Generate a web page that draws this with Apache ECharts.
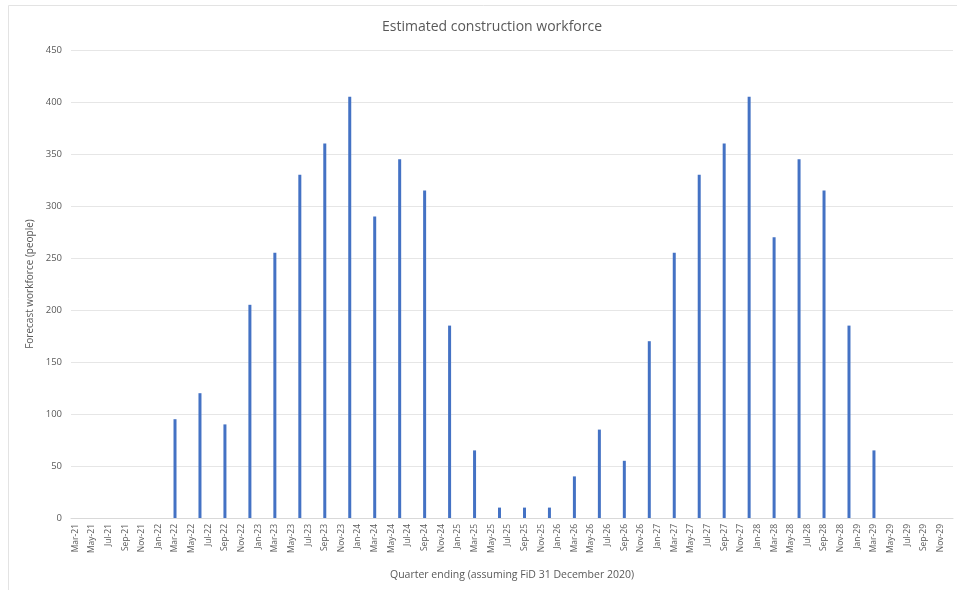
<!DOCTYPE html>
<html>
<head>
<meta charset="utf-8">
<script src="https://cdn.jsdelivr.net/npm/echarts@6/dist/echarts.min.js"></script>
<style>html,body{margin:0;padding:0;background:#fff;}#c{width:957px;height:590px;}</style>
</head>
<body>
<div id="c"></div>
<script>
// Quarter-end dates and forecast workforce values
const quarters = ['Mar-21','Jun-21','Sep-21','Dec-21',
  'Mar-22','Jun-22','Sep-22','Dec-22',
  'Mar-23','Jun-23','Sep-23','Dec-23',
  'Mar-24','Jun-24','Sep-24','Dec-24',
  'Mar-25','Jun-25','Sep-25','Dec-25',
  'Mar-26','Jun-26','Sep-26','Dec-26',
  'Mar-27','Jun-27','Sep-27','Dec-27',
  'Mar-28','Jun-28','Sep-28','Dec-28',
  'Mar-29','Jun-29','Sep-29','Dec-29'];
const workforce = [0,0,0,0,
  95,120,90,205,
  255,330,360,405,
  290,345,315,185,
  65,10,10,10,
  40,85,55,170,
  255,330,360,405,
  270,345,315,185,
  65,0,0,0];
const monthNames = ['Jan','Feb','Mar','Apr','May','Jun','Jul','Aug','Sep','Oct','Nov','Dec'];
const startMonth = 'Mar-21';
const endMonth = 'Dec-29';
const yTicks = {min:0, max:450, interval:50};

// Build monthly date axis categories (the chart uses a monthly date axis)
function parse(s){const [m,y]=s.split('-');return {m:monthNames.indexOf(m), y:2000+parseInt(y)};}
const s = parse(startMonth), e = parse(endMonth);
const months = [];
for (let y=s.y, m=s.m; y<e.y || (y===e.y && m<=e.m); ) {
  months.push(monthNames[m]+'-'+String(y%100).padStart(2,'0'));
  m++; if (m>11){m=0;y++;}
}
const series = months.map(mm => { const i = quarters.indexOf(mm); return i>=0 ? workforce[i] : '-'; });

const chart = echarts.init(document.getElementById('c'));
const txt = '#595959';
const font = '"Open Sans", "Liberation Sans", sans-serif';
chart.setOption({
  animation:false,
  textStyle:{fontFamily:font},
  title:{text:'Estimated construction workforce', left:487, top:15, textAlign:'center',
    textStyle:{fontSize:14, fontWeight:'normal', color:txt, fontFamily:font}},
  graphic:[{type:'rect', shape:{x:8.5,y:5.5,width:1000,height:600}, style:{fill:'none', stroke:'#e3e3e3', lineWidth:1}, silent:true, z:-1}],
  grid:{left:71, right:4, top:50, bottom:72},
  xAxis:{type:'category', data:months,
    name:'Quarter ending (assuming FiD 31 December 2020)', nameLocation:'middle', nameGap:52,
    nameTextStyle:{color:txt, fontSize:10.5, fontFamily:font},
    axisLine:{lineStyle:{color:'#d9d9d9'}},
    axisTick:{interval:1, length:5, lineStyle:{color:'#d9d9d9'}},
    axisLabel:{interval:1, rotate:90, color:txt, fontSize:8.5, margin:6, fontFamily:font}},
  yAxis:{type:'value', min:yTicks.min, max:yTicks.max, interval:yTicks.interval,
    name:'Forecast workforce (people)', nameLocation:'middle', nameGap:30,
    nameTextStyle:{color:txt, fontSize:10, fontFamily:font},
    axisLine:{show:false}, axisTick:{show:false},
    splitLine:{lineStyle:{color:'#e6e6e6'}},
    axisLabel:{color:txt, fontSize:9.5, margin:9, fontFamily:font}},
  series:[{type:'bar', data:series, barWidth:3, itemStyle:{color:'#4472C4'}, barGap:'0%'}]
});
</script>
</body>
</html>
